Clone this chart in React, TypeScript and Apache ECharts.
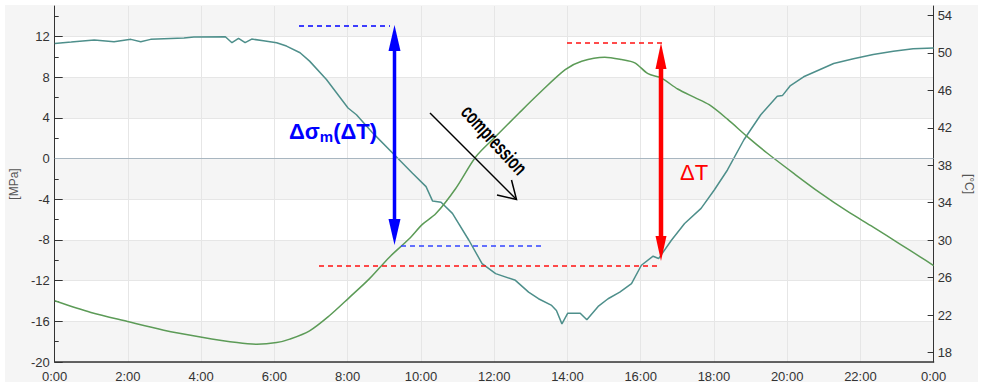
import React, { useEffect, useRef } from "react";
import * as echarts from "echarts";

// ---- data ----
const hourTicks = [0, 2, 4, 6, 8, 10, 12, 14, 16, 18, 20, 22, 24];
const mpaTicks = [-20, -16, -12, -8, -4, 0, 4, 8, 12];
const tempTicks = [18, 22, 26, 30, 34, 38, 42, 46, 50, 54];

// stress [MPa] (teal, left axis)
const stressHours = [
  0, 0.45, 1.08, 1.62, 2.08, 2.35, 2.62, 3.53, 3.8, 4.66, 4.84, 5.02, 5.2, 5.38, 5.7, 6.06, 6.33,
  6.7, 6.96, 7.42, 8.01, 8.24, 8.69, 9.32, 9.77, 10.14, 10.32, 10.55, 10.86, 11.31, 11.67, 12.04,
  12.58, 12.94, 13.21, 13.57, 13.7, 13.85, 14.01, 14.35, 14.53, 14.84, 15.11, 15.43, 15.75, 16.02,
  16.34, 16.49, 16.84, 17.2, 17.65, 18.01, 18.37, 18.82, 19.28, 19.73, 19.87, 20.09, 20.45, 20.9,
  21.27, 21.81, 22.35, 22.9, 23.44, 24,
];
const stressMPa = [
  11.32, 11.45, 11.65, 11.49, 11.72, 11.49, 11.72, 11.85, 11.95, 11.98, 11.39, 11.82, 11.39, 11.75,
  11.59, 11.39, 11.06, 10.4, 9.58, 7.77, 4.97, 4.31, 2.5, 0.2, -1.44, -2.76, -4.18, -4.3, -5.39,
  -8.03, -10.33, -11.31, -11.97, -13.13, -13.78, -14.44, -14.93, -16.25, -15.2, -15.2, -15.85,
  -14.54, -13.78, -13.13, -12.3, -10.49, -9.6, -9.83, -8.03, -6.38, -4.9, -3.09, -1.12, 1.85, 4.31,
  6.12, 6.19, 7.18, 8.04, 8.76, 9.35, 9.81, 10.24, 10.56, 10.8, 10.86,
];

// temperature [°C] (green, right axis)
const tempHours = [
  0, 0.99, 1.99, 2.98, 3.98, 4.98, 5.52, 6.06, 6.42, 6.96, 7.5, 8.05, 8.59, 9.14, 9.68, 10.04,
  10.41, 10.95, 11.5, 12.04, 12.68, 13.21, 13.94, 14.39, 15.02, 15.48, 15.84, 16.2, 16.56, 17.01,
  17.47, 17.87, 18.37, 18.91, 19.46, 20.18, 20.9, 21.63, 22.35, 23.07, 23.62, 24,
];
const tempC = [
  23.54, 22.29, 21.32, 20.4, 19.68, 19.07, 18.9, 19.07, 19.44, 20.33, 21.94, 23.9, 25.87, 28.19,
  30.16, 31.69, 32.84, 35.52, 38.91, 41.06, 43.57, 45.6, 48.21, 49.1, 49.53, 49.28, 48.93, 47.78,
  47.32, 46.14, 45.24, 44.46, 42.92, 41.06, 39.28, 37.13, 35.05, 33.12, 31.4, 29.62, 28.26, 27.3,
];

const FONT = "'Liberation Sans', Arial, sans-serif";

export default function App() {
  const ref = useRef<HTMLDivElement>(null);

  useEffect(() => {
    document.body.style.margin = "0";
    if (!ref.current) return;
    const chart = echarts.init(ref.current, undefined, { renderer: "svg" });

    const stressData = stressHours.map((h, i) => [h, stressMPa[i]]);
    const tempData = tempHours.map((h, i) => [h, tempC[i]]);

    const option: any = {
      animation: false,
      backgroundColor: "#f5f5f5",
      textStyle: { fontFamily: FONT },
      grid: { left: 54, right: 45, top: 6, bottom: 25, containLabel: false },
      xAxis: {
        type: "value",
        min: hourTicks[0],
        max: hourTicks[hourTicks.length - 1],
        interval: 2,
        axisLine: { show: true, onZero: false, lineStyle: { color: "#333", width: 1.5 } },
        axisTick: { show: false },
        axisLabel: {
          color: "#333",
          fontSize: 13,
          margin: 8,
          fontFamily: FONT,
          formatter: (v: number) => `${v % 24}:00`,
        },
        splitLine: { show: true, lineStyle: { color: "#e6e6e6", width: 1 } },
      },
      yAxis: [
        {
          type: "value",
          position: "left",
          min: -20,
          max: 15,
          interval: 4,
          name: "[MPa]",
          nameLocation: "middle",
          nameGap: 32,
          nameRotate: 90,
          nameTextStyle: { color: "#555", fontSize: 12, fontFamily: FONT },
          axisLine: { show: true, lineStyle: { color: "#333", width: 1 } },
          axisTick: {
            show: true,
            inside: true,
            length: 8,
            customValues: mpaTicks,
            lineStyle: { color: "#333" },
          },
          minorTick: { show: true, splitNumber: 2, length: 4, lineStyle: { color: "#333" } },
          axisLabel: {
            customValues: mpaTicks,
            color: "#333",
            fontSize: 13,
            margin: 5,
            fontFamily: FONT,
          },
          splitLine: { show: true, lineStyle: { color: "#e6e6e6" } },
          splitArea: { show: true, areaStyle: { color: ["#f5f5f5", "#ffffff"] } },
        },
        {
          type: "value",
          position: "right",
          min: 17,
          max: 55,
          name: "[°C]",
          nameLocation: "middle",
          nameGap: 27,
          nameRotate: -90,
          nameTextStyle: { color: "#555", fontSize: 12, fontFamily: FONT },
          axisLine: { show: true, lineStyle: { color: "#333", width: 1 } },
          axisTick: {
            show: true,
            inside: true,
            length: 6,
            customValues: tempTicks,
            lineStyle: { color: "#333" },
          },
          axisLabel: {
            customValues: tempTicks,
            color: "#333",
            fontSize: 13,
            margin: 4,
            fontFamily: FONT,
          },
          splitLine: { show: false },
          splitArea: { show: false },
        },
      ],
      series: [
        {
          type: "line",
          name: "stress",
          yAxisIndex: 0,
          data: stressData,
          showSymbol: false,
          symbol: "none",
          lineStyle: { color: "#4e8f8b", width: 1.5 },
          z: 3,
          markLine: {
            silent: true,
            symbol: ["none", "none"],
            label: { show: false },
            lineStyle: { color: "#a8b6c0", type: "solid", width: 1 },
            data: [{ yAxis: 0 }],
          },
        },
        {
          type: "line",
          name: "temperature",
          yAxisIndex: 1,
          data: tempData,
          showSymbol: false,
          symbol: "none",
          smooth: 0.3,
          lineStyle: { color: "#5c9b57", width: 1.5 },
          z: 3,
        },
      ],
      graphic: [
        // white outer margin
        {
          type: "rect",
          silent: true,
          z: 100,
          shape: { x: 0, y: 0, width: 983, height: 387 },
          style: { fill: "none", stroke: "#ffffff", lineWidth: 10 },
        },
        // blue dashed lines
        {
          type: "line",
          z: 50,
          shape: { x1: 299, y1: 26, x2: 390, y2: 26 },
          style: { stroke: "#0000ff", lineWidth: 1.4, lineDash: [5, 4] },
        },
        {
          type: "line",
          z: 50,
          shape: { x1: 401, y1: 246, x2: 541, y2: 246 },
          style: { stroke: "#3344ff", lineWidth: 1.4, lineDash: [5, 4] },
        },
        // red dashed lines
        {
          type: "line",
          z: 50,
          shape: { x1: 567, y1: 43, x2: 662, y2: 43 },
          style: { stroke: "#ff1010", lineWidth: 1.4, lineDash: [5, 4] },
        },
        {
          type: "line",
          z: 50,
          shape: { x1: 319, y1: 266, x2: 660, y2: 266 },
          style: { stroke: "#ff1010", lineWidth: 1.4, lineDash: [5, 4] },
        },
        // blue double arrow
        {
          type: "line",
          z: 51,
          shape: { x1: 394.5, y1: 45, x2: 394.5, y2: 225 },
          style: { stroke: "#0000ff", lineWidth: 3.5 },
        },
        {
          type: "polygon",
          z: 51,
          shape: { points: [[394.5, 25], [388.5, 51], [400.5, 51]] },
          style: { fill: "#0000ff" },
        },
        {
          type: "polygon",
          z: 51,
          shape: { points: [[394.5, 245], [388.5, 219], [400.5, 219]] },
          style: { fill: "#0000ff" },
        },
        // red double arrow
        {
          type: "line",
          z: 51,
          shape: { x1: 661, y1: 62, x2: 661, y2: 242 },
          style: { stroke: "#ff0000", lineWidth: 4.5 },
        },
        {
          type: "polygon",
          z: 51,
          shape: { points: [[661, 43], [655.5, 69], [666.5, 69]] },
          style: { fill: "#ff0000" },
        },
        {
          type: "polygon",
          z: 51,
          shape: { points: [[661, 261], [655.5, 236], [666.5, 236]] },
          style: { fill: "#ff0000" },
        },
        // black compression arrow
        {
          type: "line",
          z: 51,
          shape: { x1: 430, y1: 113, x2: 516.5, y2: 199.5 },
          style: { stroke: "#000", lineWidth: 1.5 },
        },
        {
          type: "polyline",
          z: 51,
          shape: { points: [[497, 195], [516.5, 199.5], [511.5, 180]] },
          style: { stroke: "#000", lineWidth: 1.5, fill: "none" },
        },
        {
          type: "text",
          z: 52,
          x: 494,
          y: 140,
          rotation: -0.83,
          scaleX: 0.66,
          style: {
            text: "compression",
            fill: "#000",
            font: `bold 21px ${FONT}`,
            align: "center",
            verticalAlign: "middle",
          },
        },
        // labels
        {
          type: "text",
          z: 52,
          x: 289,
          y: 131,
          style: {
            text: "{a|Δσ}{b|m}{a|(ΔT)}",
            align: "left",
            verticalAlign: "middle",
            rich: {
              a: {
                fill: "#0000ff",
                fontSize: 22,
                fontWeight: "bold",
                fontFamily: FONT,
                lineHeight: 26,
              },
              b: {
                fill: "#0000ff",
                fontSize: 15,
                fontWeight: "bold",
                fontFamily: FONT,
                lineHeight: 16,
                verticalAlign: "bottom",
              },
            },
          },
        },
        {
          type: "text",
          z: 52,
          x: 680,
          y: 172,
          style: {
            text: "ΔT",
            fill: "#ff0000",
            font: `22px ${FONT}`,
            align: "left",
            verticalAlign: "middle",
          },
        },
      ],
    };

    chart.setOption(option);
    return () => chart.dispose();
  }, []);

  return <div ref={ref} style={{ width: 983, height: 387 }} />;
}
